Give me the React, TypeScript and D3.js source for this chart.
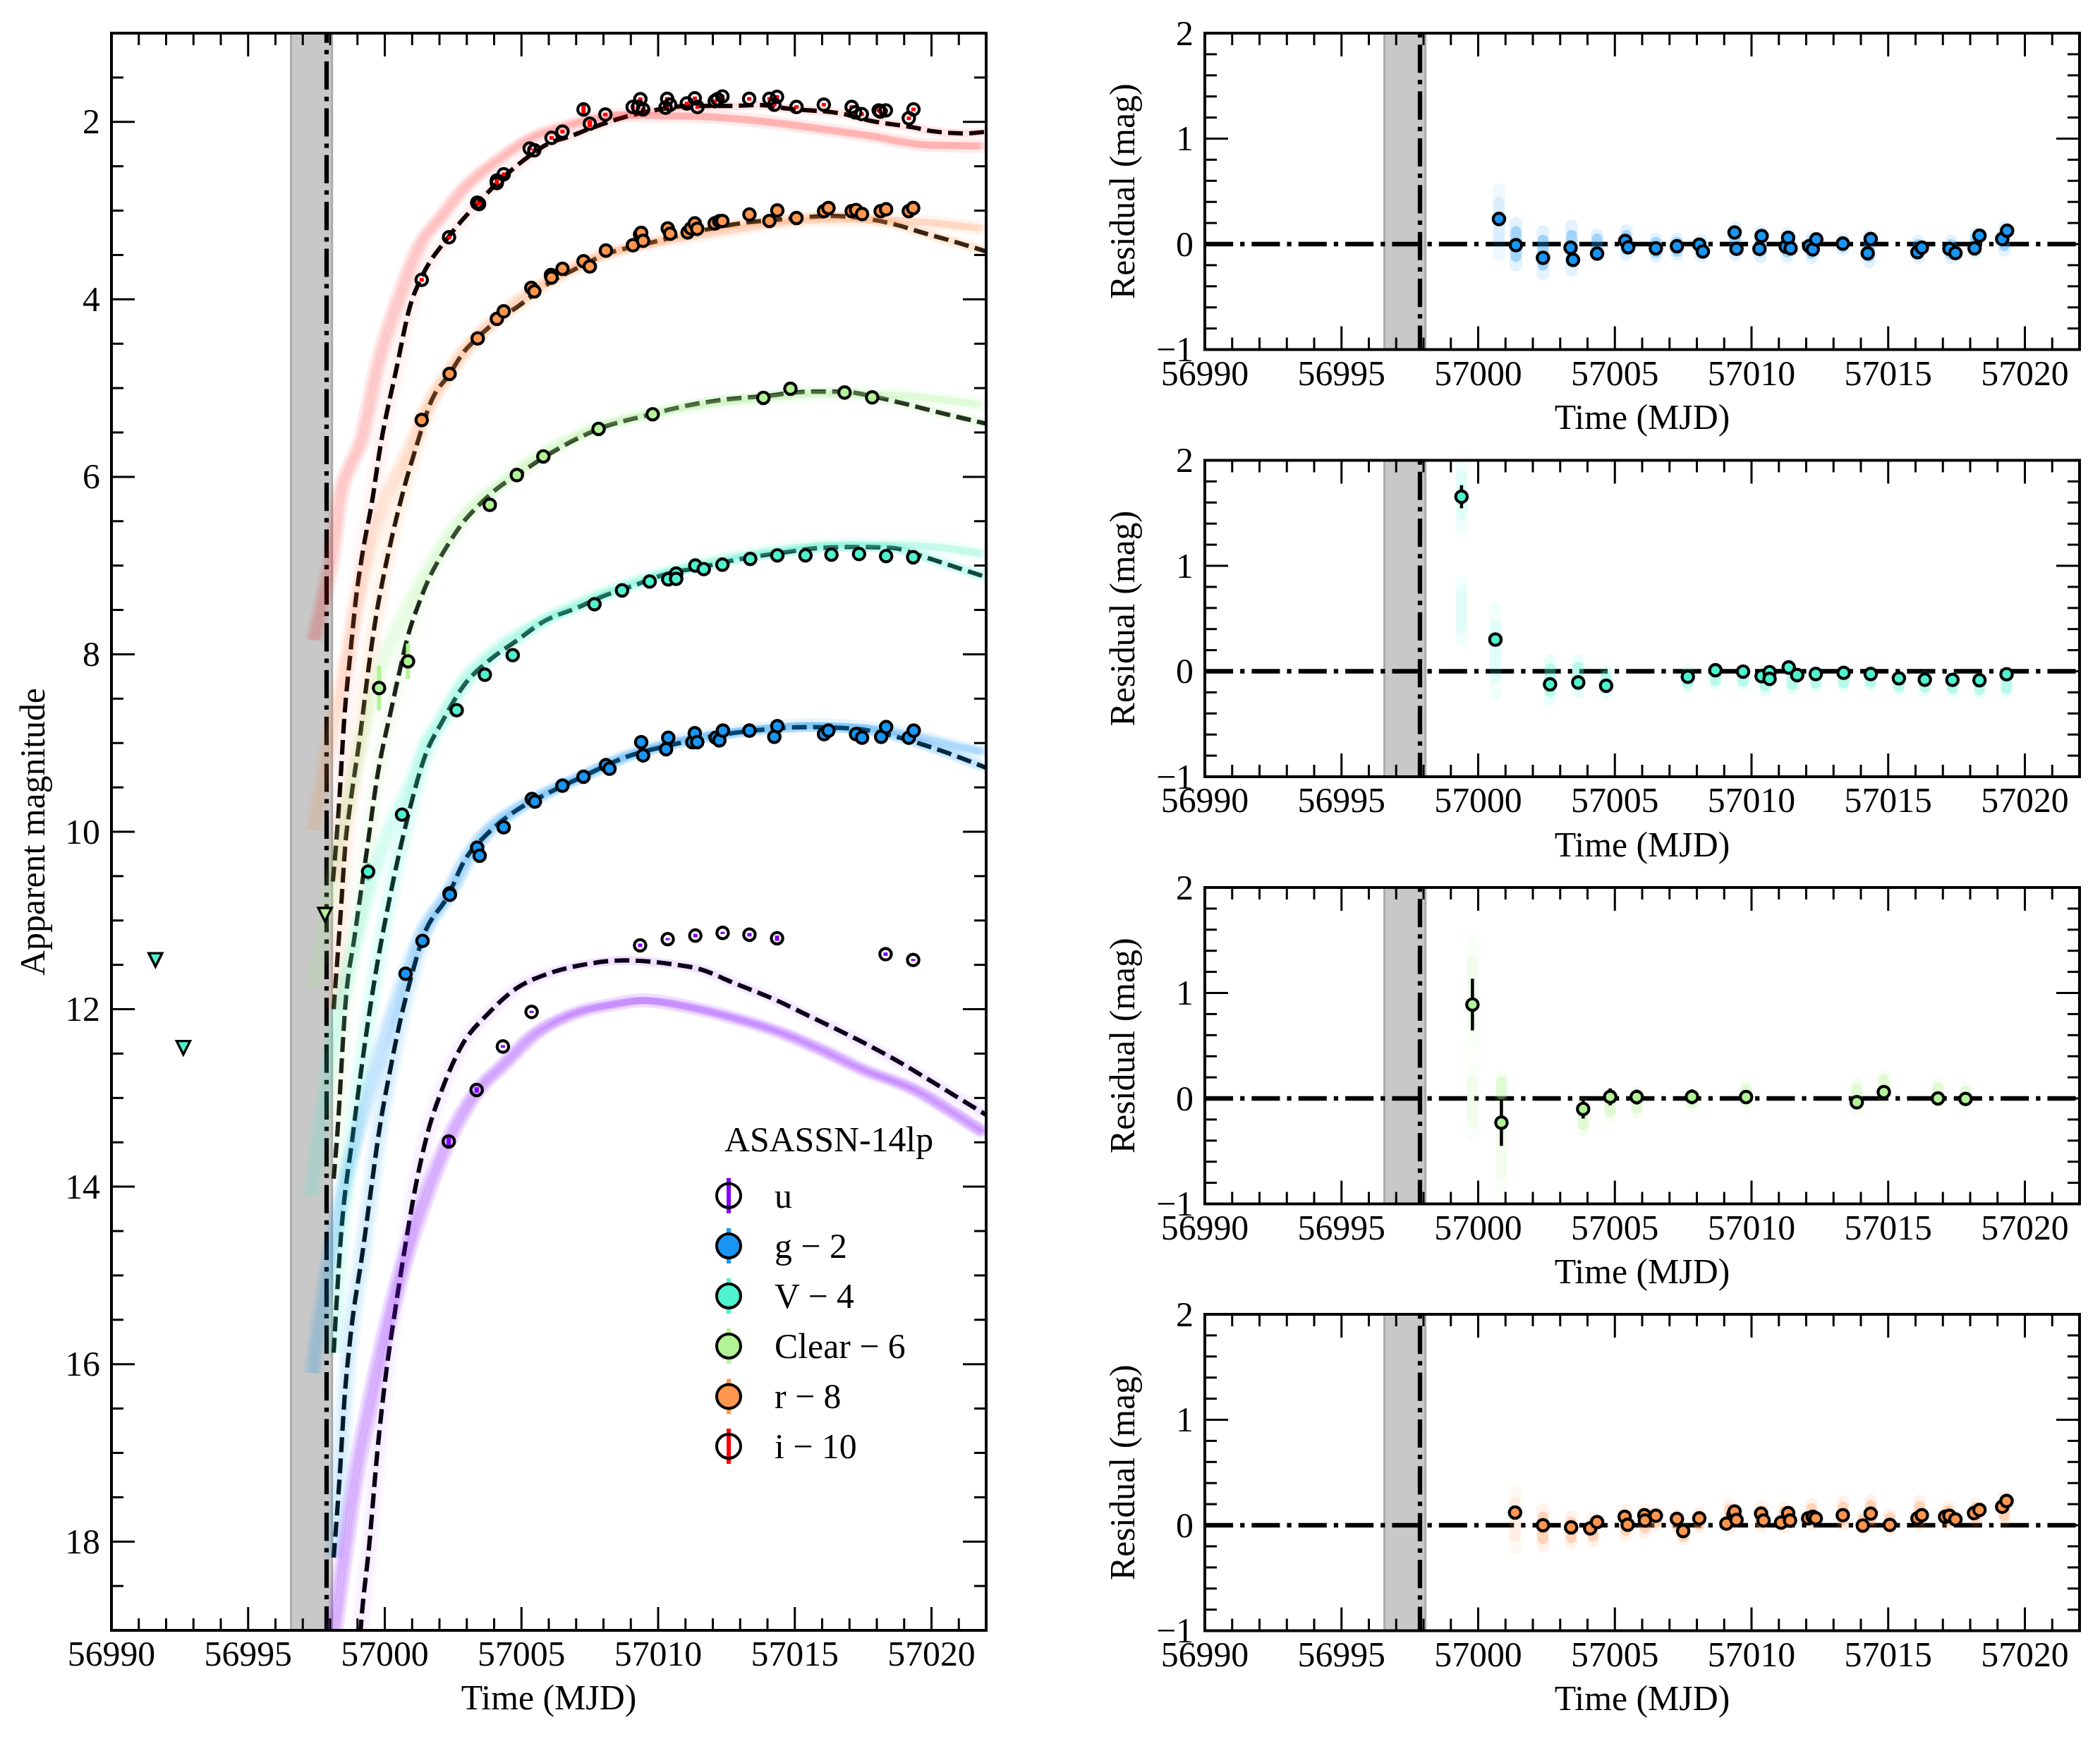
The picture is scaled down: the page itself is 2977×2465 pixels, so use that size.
import React from "react";
import * as d3 from "d3";

// All day values are MJD - 56990
const T0 = 56990;
type P = [number, number];
type E = [number, number, number?];

// Observed light curves [day, apparent magnitude, error]
const uObs: E[] = [[12.34,13.49,0.05],[13.36,12.91,0.03],[14.32,12.42,0.015],[15.37,12.03,0.012],[19.34,11.28,0.02],[20.35,11.21,0.012],[21.36,11.17,0.02],[22.36,11.14,0.012],[23.34,11.16,0.02],[24.35,11.2,0.03],[28.32,11.38,0.02],[29.33,11.445,0.012]];
const gObs: E[] = [[10.76,11.6],[11.38,11.23],[12.37,10.695],[12.38,10.71],[13.38,10.18],[13.47,10.27],[14.35,9.95],[15.38,9.63],[15.49,9.66],[16.5,9.48],[17.27,9.38],[18.09,9.25],[18.22,9.29],[19.38,8.99],[19.45,9.14],[20.29,9.07],[20.37,8.94],[21.25,8.99],[21.34,8.89],[21.43,8.99],[22.11,8.94],[22.24,8.97],[22.37,8.86],[23.34,8.86],[24.25,8.93],[24.36,8.81],[26.07,8.9],[26.23,8.86],[27.24,8.9],[27.46,8.94],[28.16,8.93],[28.34,8.82],[29.17,8.94],[29.35,8.86]];
const vObs: E[] = [[9.39,10.45,0.1],[10.63,9.807,0.02],[12.63,8.63],[13.66,8.23],[14.68,8.01],[17.67,7.436],[18.68,7.28],[19.69,7.18],[20.37,7.155],[20.66,7.09],[20.66,7.15],[21.36,7.0],[21.67,7.04],[22.35,6.99],[23.37,6.925],[24.36,6.885],[25.39,6.885],[26.34,6.877],[27.35,6.87],[28.34,6.893],[29.33,6.906]];
const clearObs: E[] = [[9.79,8.38,0.25],[10.85,8.08,0.2],[13.84,6.316,0.05],[14.83,5.98,0.02],[15.8,5.77,0.02],[17.82,5.46,0.02],[19.8,5.295,0.02],[23.85,5.11,0.02],[24.84,5.007,0.02],[26.82,5.05,0.02],[27.83,5.105,0.02]];
const rObs: E[] = [[11.35,5.36],[12.37,4.84],[13.4,4.44],[14.1,4.22],[14.35,4.135],[15.36,3.87],[15.47,3.91],[16.08,3.725],[16.1,3.755],[16.5,3.655],[17.27,3.57],[17.5,3.63],[18.09,3.45],[19.08,3.39],[19.34,3.27],[19.38,3.25],[19.45,3.34],[20.35,3.2],[20.44,3.26],[21.08,3.245],[21.2,3.2],[21.34,3.144],[21.43,3.205],[22.07,3.144],[22.24,3.12],[22.35,3.117],[23.34,3.043],[24.07,3.117],[24.36,2.998],[25.06,3.083],[26.07,3.006],[26.23,2.971],[27.08,3.006],[27.24,2.993],[27.46,3.038],[28.14,3.006],[28.34,2.985],[29.17,3.006],[29.33,2.971]];
const iObs: E[] = [[11.35,3.78],[12.35,3.3],[13.38,2.91],[13.45,2.925],[14.1,2.66],[14.1,2.69],[14.35,2.59],[15.3,2.3],[15.47,2.32],[16.1,2.18],[16.5,2.11],[17.27,1.86,0.05],[17.5,2.02,0.04],[18.07,1.917],[19.07,1.832],[19.27,1.832],[19.35,1.744],[19.45,1.859],[20.27,1.84],[20.33,1.74],[20.44,1.806],[21.05,1.792],[21.34,1.734],[21.44,1.832],[22.07,1.766],[22.17,1.744],[22.35,1.713],[23.33,1.74],[24.07,1.74],[24.25,1.806],[24.35,1.718],[25.06,1.832],[26.06,1.806],[27.08,1.832],[27.21,1.893],[27.45,1.912],[28.07,1.871],[28.13,1.885],[28.33,1.871],[29.17,1.959],[29.34,1.859]];

// Upper limits [day, magnitude]
const vLimits: P[] = [[1.61,11.44],[2.63,12.43]];
const clearLimits: P[] = [[7.81,10.93]];

// Dashed model curves
const uModel: P[] = [[8.9,20],[9.13,18.93],[9.43,18.04],[9.73,16.98],[10.03,16.14],[10.37,15.41],[10.71,14.74],[11.15,13.96],[11.58,13.38],[12.1,12.9],[12.78,12.43],[13.81,12.04],[14.84,11.76],[15.97,11.6],[17.42,11.49],[18.74,11.45],[20.44,11.49],[21.65,11.56],[22.66,11.69],[24.26,11.89],[25.68,12.1],[27.28,12.34],[28.68,12.57],[30.09,12.83],[30.99,13.0],[32,13.19]];
const gModel: P[] = [[8.13,18.18],[8.35,17.26],[8.53,16.37],[8.74,15.7],[9.21,14.69],[9.55,13.91],[9.77,13.42],[10.2,12.68],[10.55,12.15],[10.98,11.62],[11.36,11.22],[12.35,10.7],[12.87,10.35],[13.73,10.03],[14.76,9.77],[15.87,9.58],[17.16,9.39],[18.89,9.15],[20.35,9.03],[22.07,8.92],[23.8,8.85],[25.51,8.82],[27.23,8.84],[28.61,8.92],[29.81,9.03],[31.1,9.17],[32,9.28]];
const vModel: P[] = [[8.13,15.87],[8.39,14.58],[8.83,13.42],[9.51,11.89],[10.25,10.64],[10.81,9.87],[11.49,9.13],[12.1,8.76],[12.87,8.36],[13.81,8.07],[14.76,7.86],[15.87,7.62],[17,7.48],[18.03,7.34],[19.15,7.22],[20.35,7.09],[21.38,7.03],[22.93,6.93],[24.65,6.85],[25.94,6.8],[27.23,6.79],[28.52,6.8],[29.81,6.91],[31.1,7.04],[32,7.13]];
const clearModel: P[] = [[8.13,13.91],[8.26,13.42],[8.57,11.9],[8.9,11.17],[9.34,10.22],[9.73,9.37],[10.25,8.6],[10.55,8.18],[10.84,7.8],[11.23,7.44],[11.58,7.17],[12.18,6.83],[12.87,6.51],[13.47,6.31],[14.16,6.12],[14.84,5.98],[15.87,5.77],[17.82,5.46],[19.83,5.29],[20.44,5.24],[22.17,5.14],[23.9,5.09],[25.54,5.04],[26.76,5.04],[27.8,5.09],[28.8,5.16],[30.34,5.28],[32,5.4]];
const rModel: P[] = [[8.13,12.0],[8.39,10.9],[8.57,10.09],[8.7,9.77],[9.13,8.84],[9.43,8.1],[9.68,7.57],[9.94,7.14],[10.29,6.64],[10.72,6.11],[11.1,5.71],[11.74,5.12],[12.35,4.85],[12.9,4.59],[13.37,4.44],[14.1,4.24],[14.87,4.08],[16.1,3.8],[16.96,3.66],[18.1,3.49],[19.63,3.37],[21.67,3.22],[23.1,3.14],[24.5,3.1],[26.36,3.06],[27.79,3.1],[28.6,3.15],[29.8,3.26],[30.84,3.35],[32,3.46]];
const iModel: P[] = [[8.1,10.56],[8.31,9.77],[8.52,8.71],[8.75,7.96],[8.95,7.36],[9.16,6.91],[9.55,6.25],[9.81,5.71],[10.42,4.79],[10.94,4.06],[11.34,3.755],[12.32,3.3],[13.42,2.91],[14.11,2.69],[15.09,2.43],[16.08,2.23],[16.7,2.17],[17.6,2.065],[18.3,1.99],[19.83,1.87],[21.16,1.82],[22.68,1.82],[23.7,1.81],[24.73,1.85],[26.76,1.91],[27.8,1.99],[29.3,2.06],[30.04,2.105],[31.25,2.13],[32,2.11]];

// Centre lines of the coloured posterior bands
const uBand: P[] = [[7.9,19.6],[8.18,18.93],[8.57,18.03],[9.0,17.15],[9.43,16.48],[9.94,15.75],[10.55,15.02],[11.41,14.19],[12.27,13.52],[13.39,12.92],[14.33,12.63],[15.45,12.29],[16.74,12.07],[18.45,11.94],[19.46,11.9],[21.05,11.97],[22.66,12.09],[24.46,12.26],[26.06,12.47],[27.48,12.68],[29.47,12.92],[30.76,13.16],[31.97,13.4]];
const gBand: P[] = [[7.35,16.1],[8.05,14.69],[8.57,13.91],[9.16,13.24],[9.86,12.46],[10.55,11.79],[11.32,11.17],[12.35,10.68],[13.7,10.0],[14.76,9.75],[15.87,9.56],[17.16,9.38],[18.89,9.14],[20.35,9.0],[22.07,8.9],[23.8,8.84],[25.51,8.8],[27.23,8.82],[28.61,8.87],[29.81,8.95],[31.1,9.05],[31.95,9.1]];
const vBand: P[] = [[7.3,14.1],[8.13,12.3],[8.83,11.36],[9.6,10.48],[10.29,9.87],[10.97,9.43],[11.49,9.0],[12.1,8.72],[12.87,8.3],[13.81,8.0],[15.87,7.6],[18.03,7.3],[20.35,7.06],[22.93,6.89],[24.65,6.81],[26.8,6.76],[28.95,6.77],[30.68,6.81],[31.9,6.87]];
const clearBand: P[] = [[7.36,11.76],[7.71,11.22],[8.13,10.43],[8.61,9.69],[9.08,9.08],[9.86,8.15],[10.63,7.57],[11.41,7.12],[12.1,6.77],[13.13,6.35],[14.16,6.09],[15.45,5.79],[17.82,5.43],[20.44,5.25],[22.17,5.17],[23.9,5.12],[25.54,5.07],[26.76,5.07],[28.8,5.08],[30.34,5.13],[31.85,5.19]];
const rBand: P[] = [[7.41,9.98],[8.13,8.71],[8.57,8.1],[9.0,7.44],[9.51,6.77],[10.11,6.19],[10.81,5.74],[11.51,5.25],[12.35,4.82],[13.37,4.42],[14.27,4.16],[15.3,3.91],[16.46,3.7],[17.6,3.54],[19.63,3.38],[21.67,3.27],[23.1,3.2],[24.5,3.14],[26.36,3.1],[27.79,3.1],[29.3,3.12],[31.9,3.2]];
const iBand: P[] = [[7.41,7.84],[7.71,7.44],[8.1,6.83],[8.35,6.25],[8.77,5.85],[9.1,5.63],[9.78,4.7],[10.6,3.91],[11.28,3.39],[12.09,3.06],[12.9,2.75],[14.05,2.45],[15.43,2.17],[16.57,2.05],[17.59,1.97],[18.6,1.92],[20.1,1.93],[21.67,1.94],[23.7,1.99],[25.75,2.07],[27.79,2.16],[29.83,2.26],[31.9,2.27]];

// Residuals [day, residual, error]
const gRes: E[] = [[10.76,0.238],[11.38,-0.01],[12.37,-0.13],[13.38,-0.034],[13.47,-0.15],[14.35,-0.09],[15.38,0.03],[15.49,-0.03],[16.5,-0.04],[17.27,-0.02],[18.09,-0.005],[18.22,-0.07],[19.38,0.11],[19.45,-0.045],[20.29,-0.045],[20.37,0.077],[21.25,-0.024],[21.34,0.06],[21.43,-0.04],[22.11,-0.02],[22.24,-0.05],[22.37,0.045],[23.34,0.005],[24.25,-0.087],[24.36,0.048],[26.07,-0.077],[26.23,-0.034],[27.24,-0.045],[27.46,-0.085],[28.16,-0.04],[28.34,0.08],[29.17,0.048],[29.35,0.127]];
const vRes: E[] = [[9.39,1.655,0.11],[10.63,0.3],[12.63,-0.124],[13.66,-0.106],[14.68,-0.137],[17.67,-0.052],[18.68,0.01],[19.69,-0.003],[20.37,-0.046],[20.66,-0.008],[20.66,-0.072],[21.36,0.036],[21.67,-0.036],[22.35,-0.026],[23.37,-0.015],[24.36,-0.026],[25.39,-0.067],[26.34,-0.08],[27.35,-0.082],[28.34,-0.085],[29.33,-0.028]];
const clearRes: E[] = [[9.79,0.89,0.245],[10.85,-0.23,0.22],[13.84,-0.1,0.09],[14.83,0.015,0.08],[15.8,0.013,0.07],[17.82,0.015,0.07],[19.8,0.013,0.03],[23.85,-0.036,0.03],[24.84,0.06,0.03],[26.82,0,0.03],[27.83,-0.005,0.03]];
const rRes: E[] = [[11.35,0.12],[12.37,0],[13.4,-0.02],[14.1,-0.03],[14.35,0.03],[15.36,0.08],[15.47,0.005],[16.08,0.095],[16.1,0.045],[16.5,0.09],[17.27,0.06],[17.5,-0.055],[18.09,0.065],[19.08,0.015],[19.34,0.1],[19.38,0.13],[19.45,0.05],[20.35,0.11],[20.44,0.045],[21.08,0.025],[21.34,0.115],[21.41,0.045],[22.07,0.065],[22.24,0.08],[22.35,0.065],[23.34,0.095],[24.07,-0.003],[24.36,0.11],[25.06,0.003],[26.07,0.065],[26.23,0.095],[27.08,0.08],[27.24,0.09],[27.46,0.055],[28.14,0.115],[28.34,0.145],[29.17,0.175],[29.33,0.23]];

// Extent of the faint sample clouds in the residual panels [day, low, high]
const gCloud: E[] = [[10.76,-0.1,0.52],[11.38,-0.2,0.2],[12.37,-0.28,0.12],[13.42,-0.25,0.17],[14.35,-0.1,0.09],[15.42,-0.1,0.13],[16.5,-0.12,0.05],[17.27,-0.1,0.05],[18.15,-0.12,0.04],[19.4,-0.1,0.16],[20.33,-0.12,0.12],[21.3,-0.12,0.1],[22.2,-0.13,0.07],[23.34,-0.05,0.05],[24.3,-0.17,0.08],[26.1,-0.13,0.03],[27.3,-0.13,0.03],[28.2,-0.08,0.1],[29.25,-0.06,0.16]];
const vCloud: E[] = [[9.39,1.35,2.0],[9.39,0.3,0.85],[10.63,-0.22,0.6],[12.63,-0.27,0.1],[13.66,-0.2,0.1],[14.68,-0.2,0],[17.67,-0.15,0.01],[18.68,-0.12,0.02],[19.69,-0.12,0],[20.5,-0.18,0],[21.5,-0.16,0],[22.35,-0.14,0],[23.37,-0.14,0],[24.36,-0.13,0],[25.39,-0.17,-0.05],[26.34,-0.18,-0.05],[27.35,-0.19,-0.05],[28.34,-0.2,-0.07],[29.33,-0.19,-0.07]];
const clearCloud: E[] = [[9.79,0.5,1.5],[9.79,-0.35,0.3],[10.85,-0.88,-0.1],[10.85,0,0.2],[13.84,-0.3,-0.05],[14.83,-0.17,0.05],[15.8,-0.13,0.06],[17.82,-0.07,0.05],[19.8,-0.05,0.12],[23.85,-0.1,0.14],[24.84,0,0.22],[26.82,-0.05,0.14],[27.83,-0.06,0.1]];
const rCloud: E[] = [[11.35,-0.22,0.33],[12.37,-0.2,0.15],[13.4,-0.17,0.08],[14.2,-0.15,0.07],[15.4,-0.1,0.14],[16.1,-0.07,0.15],[16.5,0,0.13],[17.27,-0.02,0.1],[17.5,-0.13,-0.02],[18.09,-0.02,0.12],[19.2,-0.03,0.2],[20.35,-0.02,0.18],[21.2,-0.02,0.17],[22.2,0,0.2],[23.34,0,0.22],[24.07,-0.05,0.08],[24.36,0,0.24],[25.06,-0.05,0.1],[26.15,0,0.23],[27.2,0,0.18],[28.2,0.04,0.2],[29.25,0.04,0.27]];

const spanDays = [6.57, 8.07];
const explosionDay = 7.87;
const xTicks = [56990, 56995, 57000, 57005, 57010, 57015, 57020];
const magTicks = [2, 4, 6, 8, 10, 12, 14, 16, 18];
const resTicks = [-1, 0, 1, 2];
const legendNames = ["u", "g \u2212 2", "V \u2212 4", "Clear \u2212 6", "r \u2212 8", "i \u2212 10"];
const bandColors = ["#8000ff", "#1996f3", "#4df3ce", "#b2f396", "#ff964f", "#ff0000"];
const bandHollow = [true, false, false, false, false, true];
const haloAlpha = [0.025, 0.06, 0.07, 0.05, 0.05, 0.02];
const coreAlpha = [0.08, 0.055, 0.055, 0.055, 0.055, 0.05];

const FONT = "'Liberation Serif', 'Times New Roman', serif";
const FS = 49.8;
const W = 2977, H = 2465;
const SPINE = 4, TICK = 3, MAJ = 33, MIN = 17;
const DASHDOT = "40.1 10 6.26 10";

function range(a: number, b: number, s: number) {
  const out: number[] = [];
  for (let v = a; v <= b + 1e-9; v += s) out.push(+v.toFixed(4));
  return out;
}

function Frame({ x, y, box, xMinor, yMajor, yMinor, yFmt, xLabelY, ylabel, ylabelX }: any) {
  const [L, T, R, B] = box;
  const lines: any[] = [];
  xMinor.forEach((v: number) => {
    const maj = xTicks.includes(v);
    const len = maj ? MAJ : MIN;
    lines.push([x(v), B, x(v), B - len], [x(v), T, x(v), T + len]);
  });
  yMinor.forEach((v: number) => {
    const maj = yMajor.includes(v);
    const len = maj ? MAJ : MIN;
    lines.push([L, y(v), L + len, y(v)], [R, y(v), R - len, y(v)]);
  });
  return (
    <g>
      {lines.map((l, i) => (
        <line key={i} x1={l[0]} y1={l[1]} x2={l[2]} y2={l[3]} stroke="#000" strokeWidth={TICK} />
      ))}
      <rect x={L} y={T} width={R - L} height={B - T} fill="none" stroke="#000" strokeWidth={SPINE} />
      <g fontFamily={FONT} fontSize={FS} fill="#000">
        {xTicks.map((v) => (
          <text key={v} x={x(v)} y={B + 50} textAnchor="middle">{v}</text>
        ))}
        {yMajor.map((v: number) => (
          <text key={v} x={L - 16} y={y(v) + 16.5} textAnchor="end">{yFmt(v)}</text>
        ))}
        <text x={(L + R) / 2} y={B + xLabelY} textAnchor="middle">Time (MJD)</text>
        <text transform={`translate(${ylabelX},${(T + B) / 2}) rotate(-90)`} textAnchor="middle">{ylabel}</text>
      </g>
    </g>
  );
}

function Span({ x, box }: any) {
  const [, T, , B] = box;
  return (
    <g>
      <rect x={x(T0 + spanDays[0])} y={T} width={x(T0 + spanDays[1]) - x(T0 + spanDays[0])} height={B - T} fill="#c8c8c8" stroke="#ababab" strokeWidth={3} />
      <line x1={x(T0 + explosionDay)} x2={x(T0 + explosionDay)} y1={B} y2={T} stroke="#000" strokeWidth={6.26} strokeDasharray={DASHDOT} strokeDashoffset={6} />
    </g>
  );
}

function Dot({ cx, cy, fill }: any) {
  return <circle cx={cx} cy={cy} r={8.2} fill={fill} stroke="#000" strokeWidth={4.2} />;
}

const OFFS = [-8, -4, 0, 4, 8];

function MainPanel() {
  const box = [158, 47, 1398, 2311];
  const x = d3.scaleLinear().domain([56990, 57022]).range([box[0], box[2]]);
  const y = d3.scaleLinear().domain([1, 19]).range([box[1], box[3]]);
  const line = d3.line<P>().x((d) => x(T0 + d[0])).y((d) => y(d[1])).curve(d3.curveMonotoneX);
  const models = [uModel, gModel, vModel, clearModel, rModel, iModel];
  const bands = [uBand, gBand, vBand, clearBand, rBand, iBand];
  const obs = [uObs, gObs, vObs, clearObs, rObs, iObs];
  return (
    <g>
      <clipPath id="clipMain"><rect x={box[0]} y={box[1]} width={box[2] - box[0]} height={box[3] - box[1]} /></clipPath>
      <g clipPath="url(#clipMain)">
        <Span x={x} box={box} />
        {models.map((m, i) => (
          <path key={i} d={line(m) as string} fill="none" stroke="#000" strokeWidth={6.2} strokeDasharray="21 9" />
        ))}
        {models.map((m, i) => (
          <g key={i}>
            {OFFS.map((o) => (
              <path key={o} transform={`translate(${o},0)`} d={line(m) as string} fill="none" stroke={bandColors[i]} strokeOpacity={haloAlpha[i]} strokeWidth={13} />
            ))}
          </g>
        ))}
        {bands.map((b, i) => (
          <g key={i}>
            {OFFS.map((o) => (
              <path key={o} transform={`translate(${o},0)`} d={line(b) as string} fill="none" stroke={bandColors[i]} strokeOpacity={coreAlpha[i]} strokeWidth={10} />
            ))}
            {OFFS.map((o) => (
              <path key={o} transform={`translate(${o * 0.6},0)`} d={line(b) as string} fill="none" stroke={bandColors[i]} strokeOpacity={coreAlpha[i] * 0.35} strokeWidth={20} />
            ))}
          </g>
        ))}
        {vLimits.concat(clearLimits).map((d, i) => {
          const cx = x(T0 + d[0]), cy = y(d[1]);
          const color = i < 2 ? bandColors[2] : bandColors[3];
          return <path key={i} d={`M${cx - 9.5},${cy - 9}L${cx + 9.5},${cy - 9}L${cx},${cy + 10}Z`} fill={color} stroke="#000" strokeWidth={3.4} />;
        })}
        {obs.map((series, i) => (
          <g key={i}>
            {series.map((d, j) => {
              const e = d[2] ?? 0.02;
              return <line key={j} x1={x(T0 + d[0])} x2={x(T0 + d[0])} y1={y(d[1] - e)} y2={y(d[1] + e)} stroke={bandColors[i]} strokeWidth={6} />;
            })}
            {series.map((d, j) => (
              <Dot key={j} cx={x(T0 + d[0])} cy={y(d[1])} fill={bandHollow[i] ? "none" : bandColors[i]} />
            ))}
          </g>
        ))}
      </g>
      <Frame x={x} y={y} box={box} xMinor={range(56990, 57022, 1)} yMajor={magTicks} yMinor={range(1, 19, 0.5)} yFmt={(v: number) => `${v}`} xLabelY={112} ylabel="Apparent magnitude" ylabelX={63} />
      <Legend />
    </g>
  );
}

function Legend() {
  const cx = 1033;
  const ys = [1694.7, 1766, 1837, 1908, 1979.4, 2050];
  return (
    <g fontFamily={FONT} fontSize={FS}>
      <text x={1027} y={1632}>ASASSN-14lp</text>
      {legendNames.map((n, i) => (
        <g key={n}>
          <line x1={cx} x2={cx} y1={ys[i] - 25} y2={ys[i] + 25} stroke={bandColors[i]} strokeWidth={6} />
          <circle cx={cx} cy={ys[i]} r={17} fill={bandHollow[i] ? "none" : bandColors[i]} stroke="#000" strokeWidth={4} />
          <text x={1098} y={ys[i] + 17}>{n}</text>
        </g>
      ))}
    </g>
  );
}

function ResPanel({ top, data, cloud, color, idx }: any) {
  const box = [1708, top, 2948, top + 448.5];
  const x = d3.scaleLinear().domain([56990, 57022]).range([box[0], box[2]]);
  const y = d3.scaleLinear().domain([-1, 2]).range([box[3], box[1]]);
  const id = `clipRes${idx}`;
  return (
    <g>
      <clipPath id={id}><rect x={box[0]} y={box[1]} width={box[2] - box[0]} height={box[3] - box[1]} /></clipPath>
      <g clipPath={`url(#${id})`}>
        <Span x={x} box={box} />
        <line x1={box[0]} x2={box[2]} y1={y(0)} y2={y(0)} stroke="#000" strokeWidth={6.26} strokeDasharray={DASHDOT} />
        {cloud.map((c: E, i: number) => {
          const hi = c[2] as number;
          const mid = (c[1] + hi) / 2, half = (hi - c[1]) / 2;
          const wide = half > 0.24;
          return (
            <g key={i} stroke={color} strokeLinecap="round">
              <line x1={x(T0 + c[0])} x2={x(T0 + c[0])} y1={y(c[1])} y2={y(hi)} strokeWidth={18} strokeOpacity={wide ? 0.07 : 0.12} />
              <line x1={x(T0 + c[0])} x2={x(T0 + c[0])} y1={y(mid - half * 0.6)} y2={y(mid + half * 0.6)} strokeWidth={15} strokeOpacity={wide ? 0.1 : 0.32} />
            </g>
          );
        })}
        {data.map((d: E, j: number) =>
          d[2] ? <line key={j} x1={x(T0 + d[0])} x2={x(T0 + d[0])} y1={y(d[1] - d[2])} y2={y(d[1] + d[2])} stroke="#000" strokeWidth={4.5} /> : null
        )}
        {data.map((d: E, j: number) => (
          <Dot key={j} cx={x(T0 + d[0])} cy={y(d[1])} fill={color} />
        ))}
      </g>
      <Frame x={x} y={y} box={box} xMinor={range(56990, 57022, 1)} yMajor={resTicks} yMinor={range(-1, 2, 0.2)} yFmt={(v: number) => (v < 0 ? `\u2212${-v}` : `${v}`)} xLabelY={112.5} ylabel="Residual (mag)" ylabelX={1608} />
    </g>
  );
}

const panelTops = [47, 652.5, 1258, 1863];

export default function App() {
  return (
    <svg width={W} height={H} viewBox={`0 0 ${W} ${H}`} style={{ position: "absolute", left: 0, top: 0, display: "block", background: "#fff" }}>
      <MainPanel />
      <ResPanel idx={0} top={panelTops[0]} data={gRes} cloud={gCloud} color={bandColors[1]} />
      <ResPanel idx={1} top={panelTops[1]} data={vRes} cloud={vCloud} color={bandColors[2]} />
      <ResPanel idx={2} top={panelTops[2]} data={clearRes} cloud={clearCloud} color={bandColors[3]} />
      <ResPanel idx={3} top={panelTops[3]} data={rRes} cloud={rCloud} color={bandColors[4]} />
    </svg>
  );
}
